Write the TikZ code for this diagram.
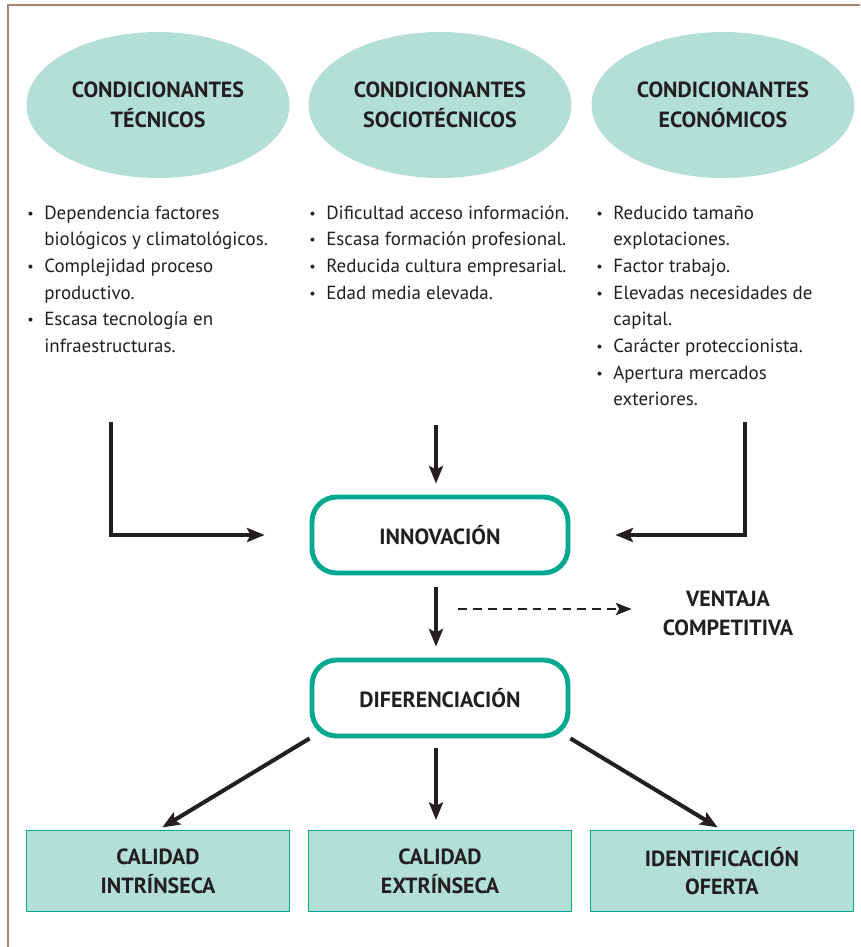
\documentclass[tikz,border=0pt]{standalone}
\usepackage{fontspec}
\setmainfont{PT Sans}
\usetikzlibrary{arrows.meta,positioning,shapes.geometric}
\definecolor{dgInk}{HTML}{231F20}
\definecolor{dgTeal}{HTML}{00A88F}
\definecolor{dgMint}{HTML}{B3DFD6}
\definecolor{dgFrame}{HTML}{A88372}
\newcommand{\itm}{\raisebox{0.5pt}{\scalebox{0.75}{\textbullet}}}
\tikzset{
  cond/.style={ellipse,fill=dgMint,draw=none,minimum width=5.26cm,minimum height=2.92cm,
               align=center,text=dgInk,font=\fontsize{12.5}{17}\selectfont\bfseries},
  stage/.style={rounded corners=14pt,draw=dgTeal,line width=2.8pt,fill=white,
                minimum width=5.12cm,minimum height=1.52cm,align=center,text=dgInk,
                font=\fontsize{12.5}{16}\selectfont\bfseries},
  result/.style={draw=dgTeal,line width=0.6pt,fill=dgMint,minimum width=5.26cm,
                 minimum height=1.62cm,align=center,text=dgInk,
                 font=\fontsize{12.5}{16.4}\selectfont\bfseries},
  lst/.style={anchor=base west,inner sep=0pt,text=dgInk,font=\fontsize{10.8}{15.2}\selectfont},
  arr/.style={-{Stealth[length=10pt,width=8pt,inset=2pt]},draw=dgInk,line width=2.3pt},
  darr/.style={-{Stealth[length=9pt,width=7pt,inset=2pt]},draw=dgInk,line width=1.2pt,
               dash pattern=on 5pt off 3.5pt},
}

\begin{document}
\begin{tikzpicture}[x=0.02cm,y=-0.02cm]
    \useasboundingbox (0,0) rectangle (860,947);
    % --- frame
    \draw[dgFrame,line width=1.2pt] (8,947) -- (8,5) -- (860,5);
    % --- conditioning factors
    \node[cond] at (158,105) (tec) {CONDICIONANTES\\TÉCNICOS};
    \node[cond] at (440,105) (soc) {CONDICIONANTES\\SOCIOTÉCNICOS};
    \node[cond] at (723,105) (eco) {CONDICIONANTES\\ECONÓMICOS};
    \node[lst] at (27,219) (ltec) {\begin{tabular}[t]{@{}l@{\hspace{6pt}}l@{}}
      \itm & Dependencia factores\\
           & biológicos y climatológicos.\\
      \itm & Complejidad proceso\\
           & productivo.\\
      \itm & Escasa tecnología en\\
           & infraestructuras.\end{tabular}};
    \node[lst] at (309,219) (lsoc) {\begin{tabular}[t]{@{}l@{\hspace{6pt}}l@{}}
      \itm & Dificultad acceso información.\\
      \itm & Escasa formación profesional.\\
      \itm & Reducida cultura empresarial.\\
      \itm & Edad media elevada.\end{tabular}};
    \node[lst] at (596,219) (leco) {\begin{tabular}[t]{@{}l@{\hspace{6pt}}l@{}}
      \itm & Reducido tamaño\\
           & explotaciones.\\
      \itm & Factor trabajo.\\
      \itm & Elevadas necesidades de\\
           & capital.\\
      \itm & Carácter proteccionista.\\
      \itm & Apertura mercados\\
           & exteriores.\end{tabular}};
    % --- central chain
    \node[stage] at (440,535) (inno) {INNOVACIÓN};
    \node[stage] at (440,698) (dif)  {DIFERENCIACIÓN};
    \node[align=center,text=dgInk,font=\fontsize{12.5}{16.4}\selectfont\bfseries]
      at (728,613) (vent) {VENTAJA\\COMPETITIVA};
    % --- results
    \node[result] at (158,871) (intr) {CALIDAD\\INTRÍNSECA};
    \node[result] at (440,871) (extr) {CALIDAD\\EXTRÍNSECA};
    \node[result] at (722,871) (ofer) {IDENTIFICACIÓN\\OFERTA};

    \coordinate (tL) at (111,422);
    \coordinate (tM) at (436,425);
    \coordinate (tR) at (745,422);
    \coordinate (dS) at (458,609);
    \draw[arr,shorten >=0.9cm] (tL) |- (inno.west);
    \draw[arr,shorten >=0.9cm] (tR) |- (inno.east);
    \draw[arr,shorten >=0.22cm] (tM) -- (tM |- inno.north);
    \draw[arr,shorten <=0.24cm,shorten >=0.22cm] (tM |- inno.south) -- (tM |- dif.north);
    \draw[darr] (dS) -- ([xshift=-0.5cm]vent.west |- dS);
    \draw[arr,shorten >=0.1cm] (dif.south west) -- (intr.north);
    \draw[arr,shorten <=0.2cm,shorten >=0.2cm] (tM |- dif.south) -- (tM |- extr.north);
    \draw[arr,shorten >=0.1cm] (dif.south east) -- (ofer.north);
  \end{tikzpicture}
\end{document}
